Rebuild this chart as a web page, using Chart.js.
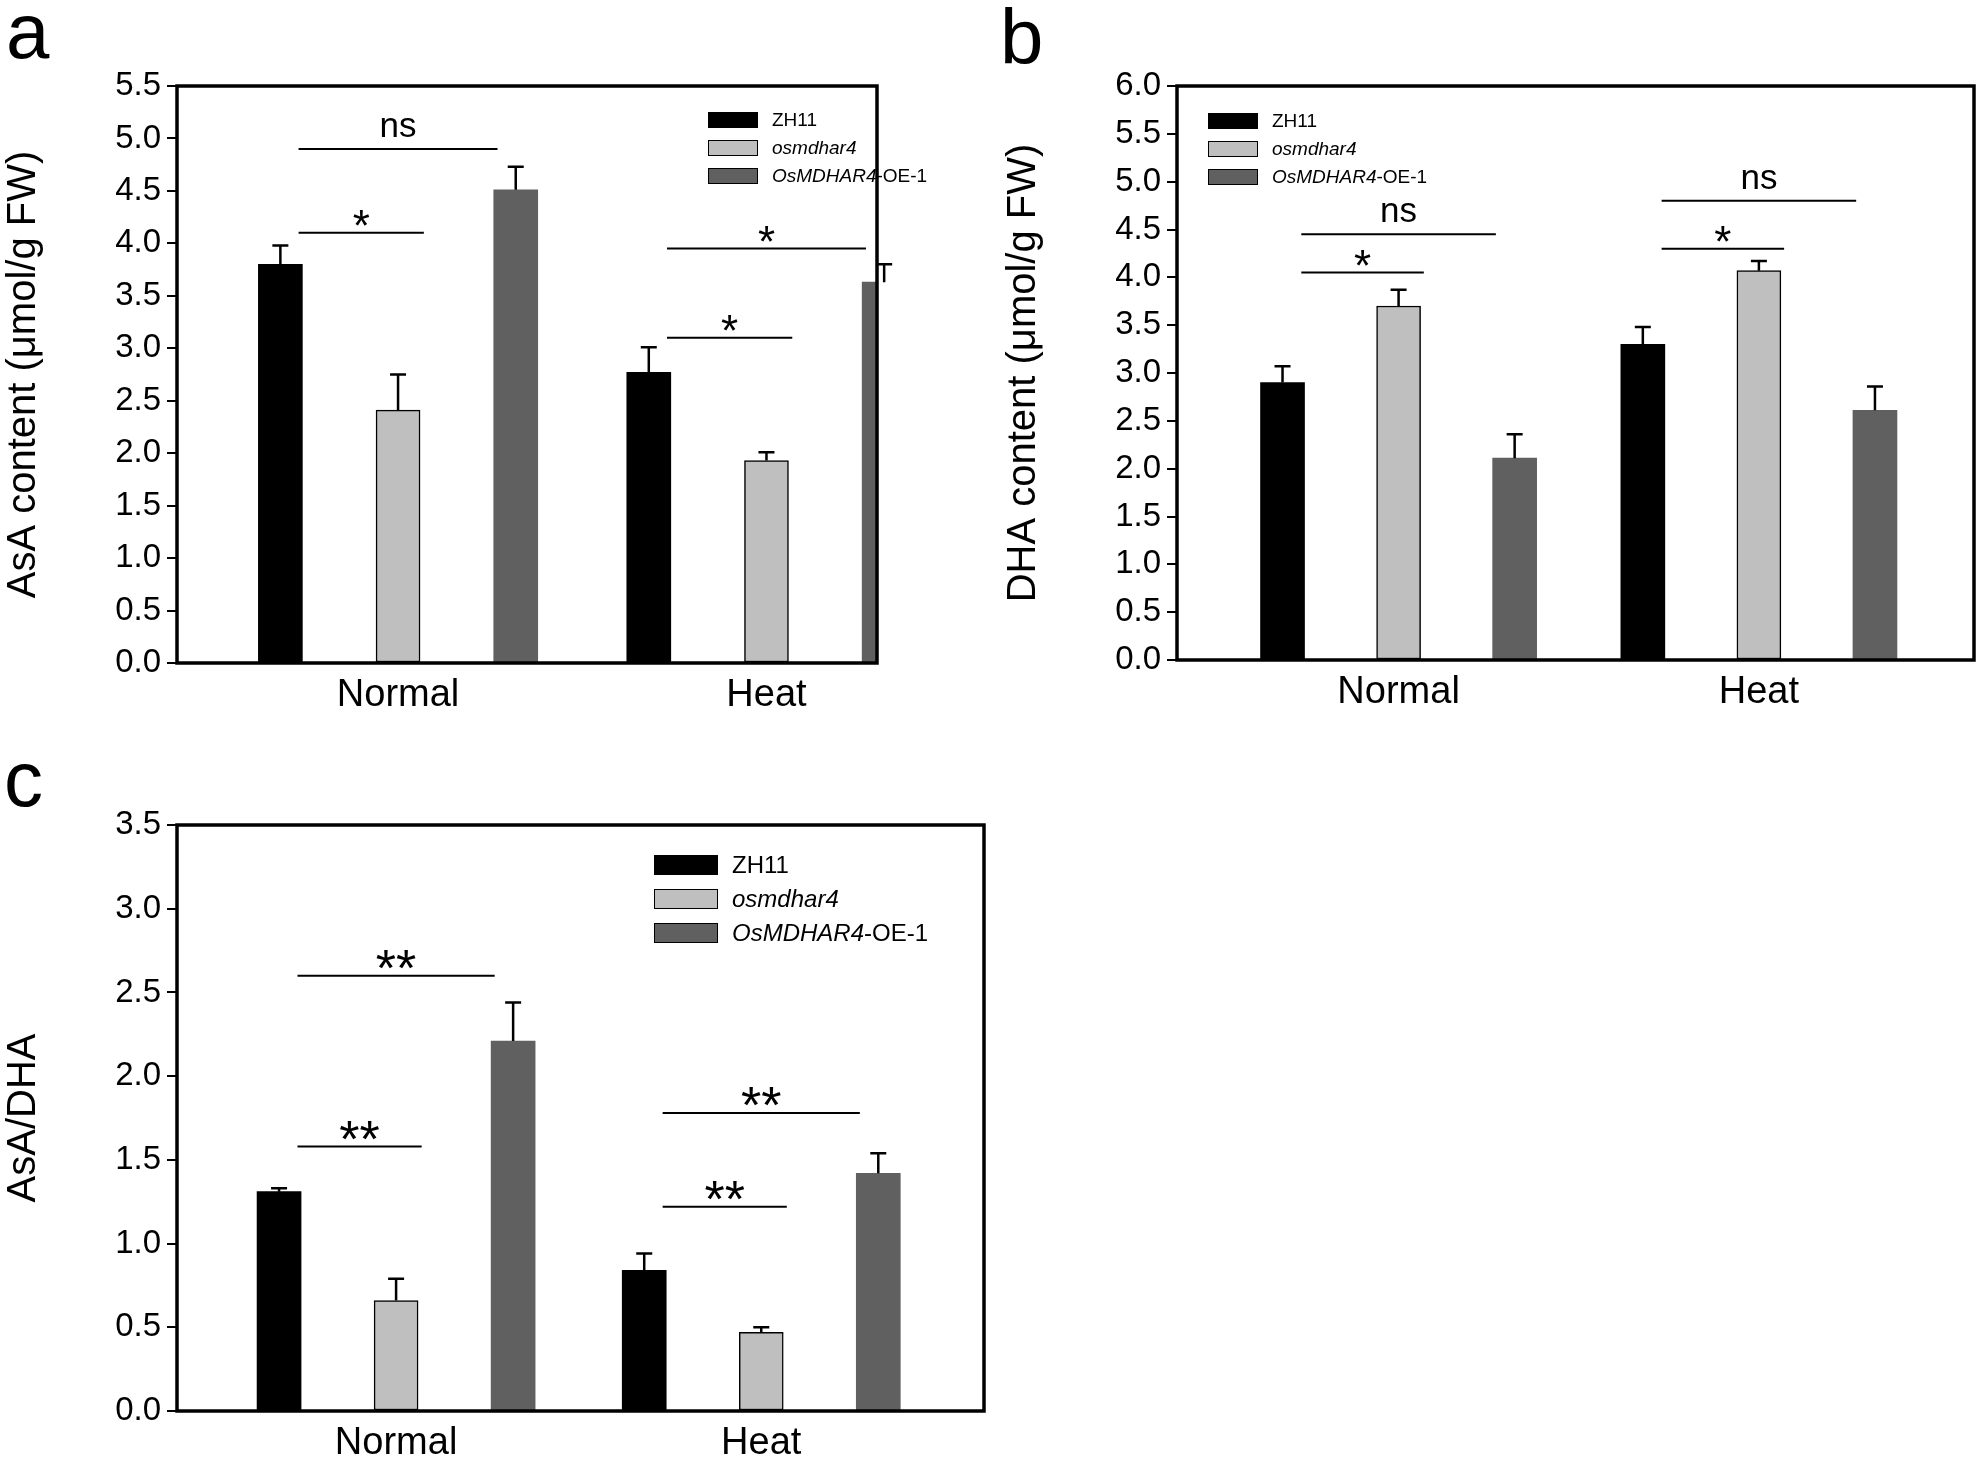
<!DOCTYPE html>
<html><head><meta charset="utf-8">
<script src="https://cdn.jsdelivr.net/npm/chart.js@4.4.1/dist/chart.umd.min.js"></script>
<style>
body{margin:0;width:1984px;height:1460px;background:#fff;position:relative;overflow:hidden;font-family:Arial,"Liberation Sans",sans-serif}
canvas{position:absolute}
.lt{position:absolute;font-size:78px;font-family:Arial,"Liberation Sans",sans-serif;line-height:1}
.lg{position:absolute;font-family:Arial,"Liberation Sans",sans-serif;color:#000}
.lg div{display:flex;align-items:center;white-space:nowrap}
.lg span.s{display:inline-block;border:1px solid #000;box-sizing:border-box;margin-right:14px}
</style></head><body>
<div class="lt" style="left:6px;top:-8px">a</div>
<div class="lt" style="left:1000px;top:-2px">b</div>
<div class="lt" style="left:4px;top:740px">c</div>
<canvas id="ca" width="900" height="740" style="left:0;top:0"></canvas>
<canvas id="cb" width="984" height="740" style="left:1000px;top:0"></canvas>
<canvas id="cc" width="1000" height="700" style="left:0;top:760px"></canvas>
<script>
const categories=['Normal','Heat'];
const seriesNames=['ZH11','osmdhar4','OsMDHAR4-OE-1'];
const colors=['#000000','#bfbfbf','#606060'];
// Panel a: AsA
const asaZH11=[3.80,2.77], asaZH11Err=[0.18,0.24];
const asaMut=[2.41,1.93], asaMutErr=[0.34,0.08];
const asaOE=[4.51,3.63], asaOEErr=[0.22,0.17];
// Panel b: DHA
const dhaZH11=[2.90,3.30], dhaZH11Err=[0.17,0.18];
const dhaMut=[3.70,4.07], dhaMutErr=[0.17,0.10];
const dhaOE=[2.11,2.61], dhaOEErr=[0.25,0.25];
// Panel c: AsA/DHA
const ratZH11=[1.31,0.84], ratZH11Err=[0.02,0.10];
const ratMut=[0.66,0.47], ratMutErr=[0.13,0.03];
const ratOE=[2.21,1.42], ratOEErr=[0.23,0.12];
// significance: [category, fromSeries, toSeries, yValue, label]
const sigA=[[0,0,2,4.9,'ns'],[0,0,1,4.1,'*'],[1,0,2,3.95,'*'],[1,0,1,3.1,'*']];
const sigB=[[0,0,2,4.45,'ns'],[0,0,1,4.05,'*'],[1,0,2,4.8,'ns'],[1,0,1,4.3,'*']];
const sigC=[[0,0,2,2.6,'**'],[0,0,1,1.58,'**'],[1,0,2,1.78,'**'],[1,0,1,1.22,'**']];

const OFF=[-0.2,0,0.2];
function ds(vals,errs,i){
  return {label:seriesNames[i],data:vals.map((v,k)=>({x:k+OFF[i],y:v})),errs:errs,
    backgroundColor:colors[i],borderColor:'#000',borderWidth:i==1?1.5:0,barThickness:44,borderSkipped:false};
}
const extras={id:'extras',
  afterDatasetsDraw(ch){
    const c=ch.ctx,ys=ch.scales.y,xs=ch.scales.x;
    c.save();c.strokeStyle='#000';c.lineWidth=2.5;
    ch.data.datasets.forEach((d,i)=>{
      const m=ch.getDatasetMeta(i);
      m.data.forEach((el,k)=>{
        const top=ys.getPixelForValue(d.data[k].y), e=ys.getPixelForValue(d.data[k].y+d.errs[k]);
        c.beginPath();c.moveTo(el.x,top);c.lineTo(el.x,e);c.moveTo(el.x-8,e);c.lineTo(el.x+8,e);c.stroke();
      });
    });
    const sig=ch.options.plugins.extras.sig, fs=ch.options.plugins.extras.fs;
    c.lineWidth=2;c.fillStyle='#000';c.textAlign='center';c.textBaseline='bottom';
    sig.forEach(([k,a,b,y,t])=>{
      const x1=xs.getPixelForValue(k+OFF[a]-0.07),x2=xs.getPixelForValue(k+OFF[b]+0.07),py=ys.getPixelForValue(y);
      c.beginPath();c.moveTo(x1,py);c.lineTo(x2,py);c.stroke();
      c.font=(t=='ns'?fs[0]:fs[1])+'px Arial, "Liberation Sans"';
      c.fillText(t,(x1+x2)/2,py+(t=='ns'?-4:(t=='**'?22:18)));
    });
    const a=ch.chartArea;c.lineWidth=3.5;c.strokeRect(a.left,a.top,a.right-a.left,a.bottom-a.top);
    c.restore();
  }};
function make(id,sets,cfg){
  new Chart(document.getElementById(id),{type:'bar',data:{datasets:sets},
    options:{responsive:false,animation:false,
      layout:{padding:cfg.pad},
      plugins:{legend:{display:false},tooltip:{enabled:false},extras:{sig:cfg.sig,fs:cfg.fs}},
      scales:{
        x:{type:'linear',offset:false,min:cfg.xmin,max:cfg.xmax,grid:{display:false},border:{display:false},
          afterBuildTicks(s){s.ticks=[{value:0},{value:1}];},
          afterFit(s){s.height=cfg.xh;},
          ticks:{callback:(v)=>categories[v],color:'#000',font:{size:38,family:'Arial, "Liberation Sans"'},padding:2,autoSkip:false,maxRotation:0}},
        y:{min:0,max:cfg.ymax,grid:{drawOnChartArea:false,tickLength:10,color:'#000',lineWidth:2},border:{display:false},
          afterFit(s){s.width=cfg.yw;},
          ticks:{stepSize:0.5,callback:v=>v.toFixed(1),color:'#000',font:{size:33,family:'Arial, "Liberation Sans"'},padding:6},
          title:{display:true,text:cfg.title,color:'#000',font:{size:40,family:'Arial, "Liberation Sans"'},padding:0}}
      }},plugins:[extras]});
}
make('ca',[ds(asaZH11,asaZH11Err,0),ds(asaMut,asaMutErr,1),ds(asaOE,asaOEErr,2)],
  {pad:{top:86,right:23,left:0,bottom:0},xmin:-0.6,xmax:1.3,xh:77,yw:177,ymax:5.5,title:'AsA content (μmol/g FW)',sig:sigA,fs:[35,44]});
make('cb',[ds(dhaZH11,dhaZH11Err,0),ds(dhaMut,dhaMutErr,1),ds(dhaOE,dhaOEErr,2)],
  {pad:{top:86,right:10,left:0,bottom:0},xmin:-0.615,xmax:1.597,xh:80,yw:177,ymax:6.0,title:'DHA content (μmol/g FW)',sig:sigB,fs:[35,44]});
make('cc',[ds(ratZH11,ratZH11Err,0),ds(ratMut,ratMutErr,1),ds(ratOE,ratOEErr,2)],
  {pad:{top:65,right:16,left:0,bottom:0},xmin:-0.6,xmax:1.61,xh:49,yw:177,ymax:3.5,title:'AsA/DHA',sig:sigC,fs:[35,52]});
function legend(x,y,fs,sw,sh,gap){
  const d=document.createElement('div');d.className='lg';d.style.left=x+'px';d.style.top=y+'px';d.style.fontSize=fs+'px';
  seriesNames.forEach((n,i)=>{
    const r=document.createElement('div');r.style.height=gap+'px';
    const txt=i==0?n:(i==1?'<i>osmdhar4</i>':'<i>OsMDHAR4</i>-OE-1');
    r.innerHTML='<span class="s" style="width:'+sw+'px;height:'+sh+'px;background:'+colors[i]+'"></span>'+txt;
    d.appendChild(r);
  });
  document.body.appendChild(d);
}
legend(708,106,19,50,16,28);
legend(1208,107,19,50,16,28);
legend(654,848,24,64,20,34);
</script></body></html>
